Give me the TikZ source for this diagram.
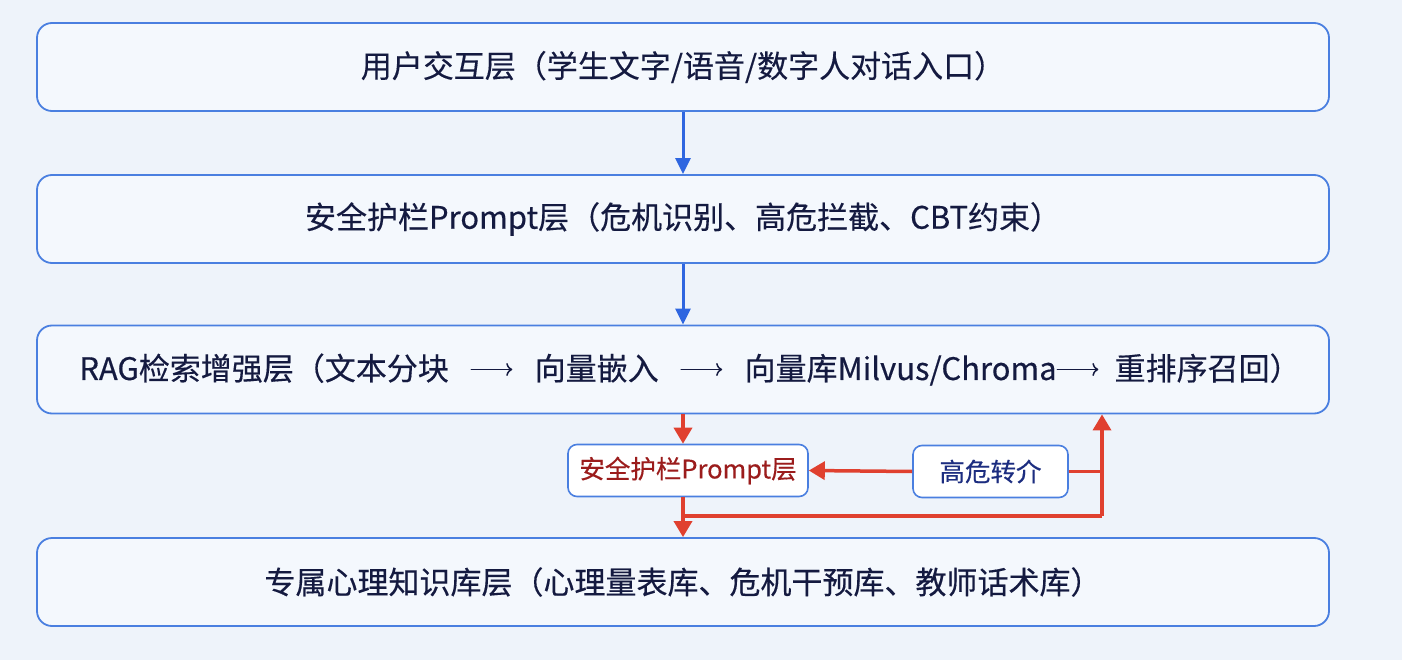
\documentclass[tikz,border=0pt]{standalone}
\usepackage{fontspec}
\setmainfont{Noto Sans CJK SC}
\newfontfamily\medfont{Noto Sans CJK SC}[FakeBold=0.35]
\usetikzlibrary{arrows.meta}
\definecolor{bgc}{HTML}{EEF3FA}
\definecolor{boxfill}{HTML}{F4F8FD}
\definecolor{boxline}{HTML}{4A7FE0}
\definecolor{txt}{HTML}{141A40}
\definecolor{bluear}{HTML}{2F66E0}
\definecolor{redar}{HTML}{E0402F}
\definecolor{redtxt}{HTML}{9B1C1C}
\definecolor{gwtxt}{HTML}{1C2D80}
\newcommand\myarr{\tikz[baseline=-10.5pt]\draw[draw=txt, line width=1.5pt, line cap=round, -{To[length=6pt,width=13pt,line width=1.5pt]}] (0pt,0pt) -- (41pt,0pt);}
\tikzset{
  layer/.style={draw=boxline, line width=1.8pt, fill=boxfill, rounded corners=15pt,
    minimum width=1292pt, minimum height=88pt, inner sep=0pt, text=txt,
    font=\medfont\fontsize{31}{37}\selectfont},
  smallbox/.style={draw=boxline, line width=1.6pt, fill=white, rounded corners=9pt,
    minimum height=52pt, inner sep=0pt, font=\medfont\fontsize{25.5}{30}\selectfont},
  barrow/.style={draw=bluear, line width=3pt, -{Triangle[width=15pt,length=16pt]}},
  rline/.style={draw=redar, line width=3.5pt},
  rarrow/.style={rline, -{Triangle[width=18pt,length=16pt]}}
}
\begin{document}
\begin{tikzpicture}[x=1pt,y=-1pt]
\fill[bgc] (0,0) rectangle (1402,660);
\useasboundingbox (0,0) rectangle (1402,660);
\node[layer] (l1) at (683,67) {用户交互层（学生文字/语音/数字人对话入口）};
\node[layer] (l2) at (683,219) {安全护栏Prompt层（危机识别、高危拦截、CBT约束）};
\node[layer] (l3) at (683,369.5) {\hspace{14pt}RAG检索增强层（文本分块\hspace{0.7em}\myarr\hspace{0.7em}向量嵌入\hspace{0.7em}\myarr\hspace{0.7em}向量库Milvus/Chroma\myarr\hspace{0.5em}重排序召回）};
\node[layer] (l4) at (683,582) {专属心理知识库层（心理量表库、危机干预库、教师话术库）};
\node[smallbox, minimum width=240pt, text=redtxt] (sp) at (688,470.5) {安全护栏Prompt层};
\node[smallbox, minimum width=155pt, text=gwtxt] (gw) at (990.5,471.5) {高危转介};
\coordinate (turn) at (1102,516);
\coordinate (merge) at (683,516);
\draw[barrow] (l1.south) -- (l2.north);
\draw[barrow] (l2.south) -- (l3.north);
\draw[rarrow] (l3.south) -- (l3.south |- sp.north);
\draw[rarrow] (gw.west) -- (sp.east);
\draw[rline] (gw.east) -- (gw.east -| turn);
\draw[rarrow] (turn) -- (turn |- l3.south);
\draw[rline] (turn) -- (merge);
\draw[rarrow] (sp.south -| l3.south) -- (l4.north);
\end{tikzpicture}
\end{document}
